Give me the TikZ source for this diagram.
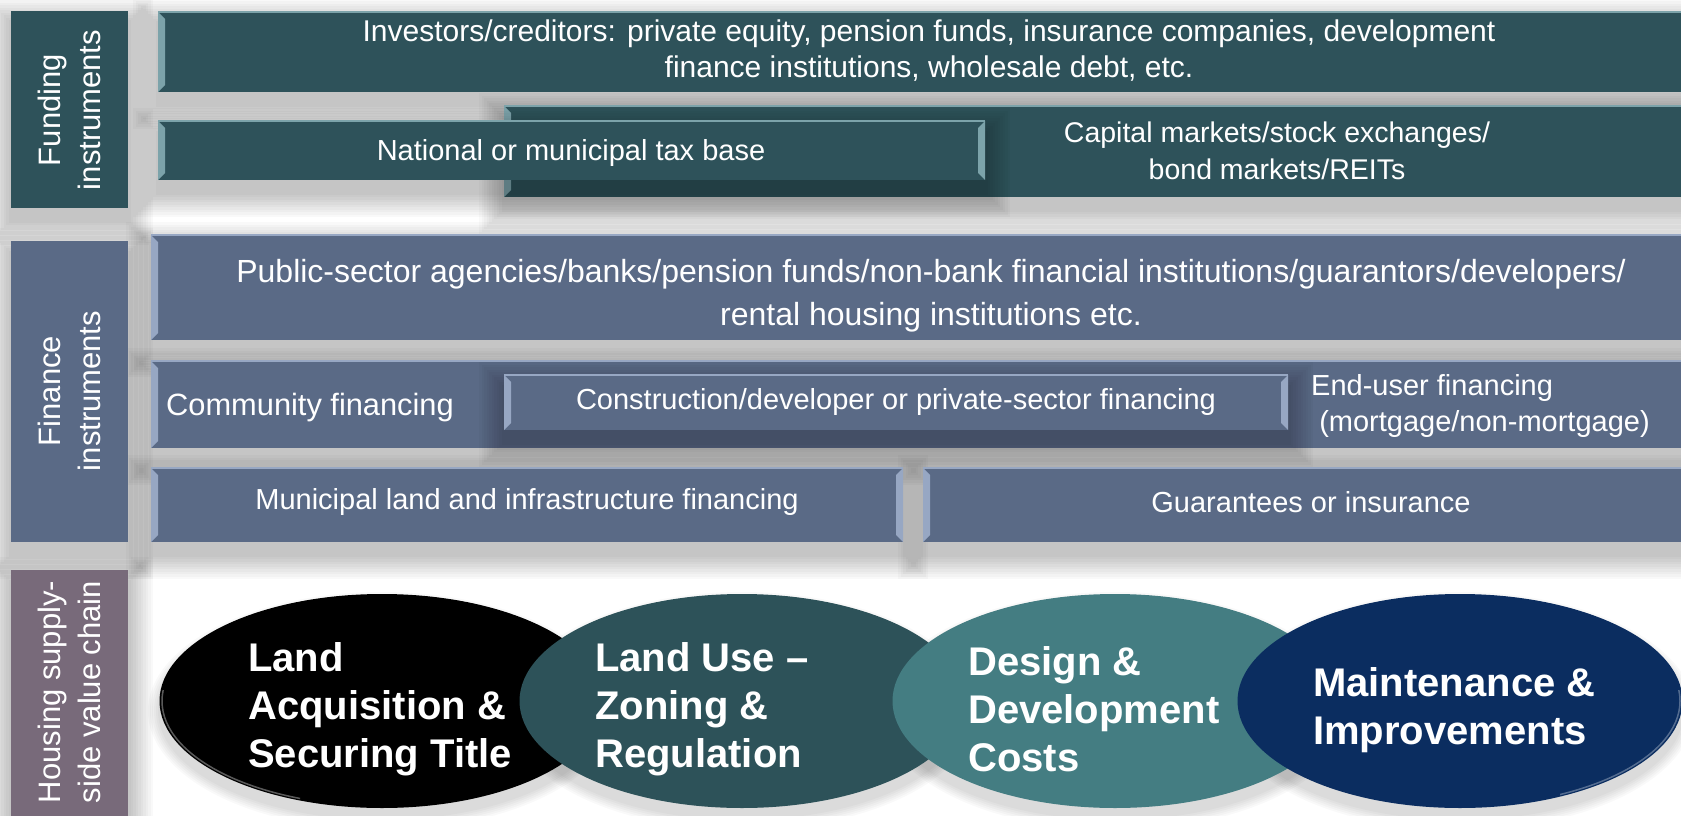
\documentclass[tikz,border=0pt]{standalone}
\usepackage{fontspec}
\setmainfont{Liberation Sans}
\usetikzlibrary{calc,shapes.geometric}
\definecolor{fundC}{HTML}{2E525A}
\definecolor{fundB}{HTML}{7CA3AA}
\definecolor{finC}{HTML}{5A6A86}
\definecolor{finB}{HTML}{97A7C3}
\definecolor{houseC}{HTML}{786A7A}
\definecolor{tealC}{HTML}{2D5259}
\definecolor{designC}{HTML}{447D82}
\definecolor{navyC}{HTML}{0B2D60}
\newcommand\mkbox[6]{\node[#6, anchor=north west, minimum width={(#4-#2)*1pt}, minimum height={(#5-#3)*1pt}] (#1) at (#2,#3) {};}
\newcommand\softsh[4]{\foreach \k in {1,...,10}{\fill[black,opacity=0.022] ({#1-2.5*\k},{#2-2.5*\k+12}) rectangle ({#3+2.5*\k},{#4+2.5*\k+12});}}
\newcommand\bevL[2]{\fill[#2] (#1.north west) -- ++(7,7) -- ($(#1.south west)+(7,-7)$) -- (#1.south west) -- cycle;
  \draw[#2, line width=1.2pt] (#1.north west) -- (#1.north east);}
\newcommand\bevR[2]{\fill[#2] (#1.north east) -- ++(-7,7) -- ($(#1.south east)+(-7,-7)$) -- (#1.south east) -- cycle;}
\tikzset{
  boxn/.style={rectangle, inner sep=0pt, outer sep=0pt, draw=none},
  fundbox/.style={boxn, fill=fundC},
  finbox/.style={boxn, fill=finC},
  btext/.style={text=white, align=center, inner sep=0pt, font=\fontsize{29}{36}\selectfont},
  ltext/.style={text=white, align=center, inner sep=0pt, rotate=90, font=\fontsize{31}{40}\selectfont},
  etext/.style={text=white, align=left, inner sep=0pt, anchor=west, font=\fontsize{40}{48}\selectfont\bfseries},
  ell/.style={ellipse, inner sep=0pt, outer sep=0pt, minimum width=445pt, minimum height=214pt, draw=none}
}
\begin{document}
\begin{tikzpicture}[x=1pt,y=-1pt]
\useasboundingbox (0,0) rectangle (1681,816);
\fill[white] (0,0) rectangle (1681,816);
% shadows
\softsh{11}{11}{128}{208}
\softsh{11}{241}{128}{542}
\softsh{11}{570}{128}{830}
\softsh{158}{12}{1681}{92}
\softsh{504}{106}{1681}{197}
\softsh{151}{235}{1681}{340}
\softsh{151}{361}{1681}{448}
\softsh{151}{468}{903}{542}
\softsh{923}{468}{1681}{542}
\foreach \x in {382,742,1115,1460}{\foreach \k in {1,...,6}{\fill[black,opacity=0.025] (\x,711) ellipse ({222+2*\k} and {107+2*\k});}}
% labels
\mkbox{labFund}{11}{11}{128}{208}{boxn, fill=fundC}
\mkbox{labFin}{11}{241}{128}{542}{boxn, fill=finC}
\mkbox{labHouse}{11}{570}{128}{830}{boxn, fill=houseC}
\node[ltext] (tFund) at (69,110) {Funding\\instruments};
\node[ltext] (tFin) at (69,391) {Finance\\instruments};
\node[ltext] (tHouse) at (69,692) {Housing supply-\\side value chain};
% funding boxes
\mkbox{inv}{158}{12}{1681}{92}{fundbox}
\bevL{inv}{fundB}
\mkbox{cap}{504}{106}{1681}{197}{fundbox}
\bevL{cap}{fundB}
\softsh{158}{121}{985}{180}
\mkbox{nat}{158}{121}{985}{180}{fundbox}
\bevL{nat}{fundB}
\bevR{nat}{fundB}
\node[btext, font=\fontsize{30}{36}\selectfont] (tInv) at (929,51) {Investors/creditors: private equity, pension funds, insurance companies, development\\finance institutions, wholesale debt, etc.};
\node[btext] (tNat) at (571,153) {National or municipal tax base};
\node[btext, font=\fontsize{28.5}{37}\selectfont] (tCap) at (1277,151) {Capital markets/stock exchanges/\\bond markets/REITs};
% finance boxes
\mkbox{pub}{151}{235}{1681}{340}{finbox}
\bevL{pub}{finB}
\mkbox{com}{151}{361}{1681}{448}{finbox}
\bevL{com}{finB}
\softsh{504}{375}{1288}{430}
\mkbox{con}{504}{375}{1288}{430}{finbox}
\bevL{con}{finB}
\bevR{con}{finB}
\mkbox{mun}{151}{468}{903}{542}{finbox}
\bevL{mun}{finB}
\bevR{mun}{finB}
\mkbox{gua}{923}{468}{1681}{542}{finbox}
\bevL{gua}{finB}
\node[btext, font=\fontsize{32}{43}\selectfont] (tPub) at (931,296) {Public-sector agencies/banks/pension funds/non-bank financial institutions/guarantors/developers/\\rental housing institutions etc.};
\node[btext, anchor=west, font=\fontsize{30.8}{36}\selectfont] (tCom) at (166,408) {Community financing};
\node[btext] (tCon) at (896,402) {Construction/developer or private-sector financing};
\node[btext, align=left, anchor=west] (tEnd) at (1311,406) {End-user financing\\\ (mortgage/non-mortgage)};
\node[btext] (tMun) at (527,502) {Municipal land and infrastructure financing};
\node[btext] (tGua) at (1311,502) {Guarantees or insurance};
% value chain
\node[ell, fill=black] (e1) at (382,701) {};
\begin{scope}
\clip (150,690) rectangle (300,816);
\draw[white, opacity=0.35, line width=1.5pt] (382,701) ellipse (220 and 105);
\end{scope}
\node[ell, fill=tealC] (e2) at (742,701) {};
\node[ell, fill=designC] (e3) at (1115,701) {};
\node[ell, fill=navyC] (e4) at (1460,701) {};
\begin{scope}
\clip (1560,690) rectangle (1681,816);
\draw[white, opacity=0.3, line width=1.5pt] (1460,701) ellipse (220 and 105);
\end{scope}
\node[etext] (t1) at (248,709) {Land\\Acquisition \&\\Securing Title};
\node[etext] (t2) at (595,709) {Land Use –\\Zoning \&\\Regulation};
\node[etext] (t3) at (968,709) {Design \&\\Development\\Costs};
\node[etext] (t4) at (1313,710) {Maintenance \&\\Improvements};
\end{tikzpicture}
\end{document}
